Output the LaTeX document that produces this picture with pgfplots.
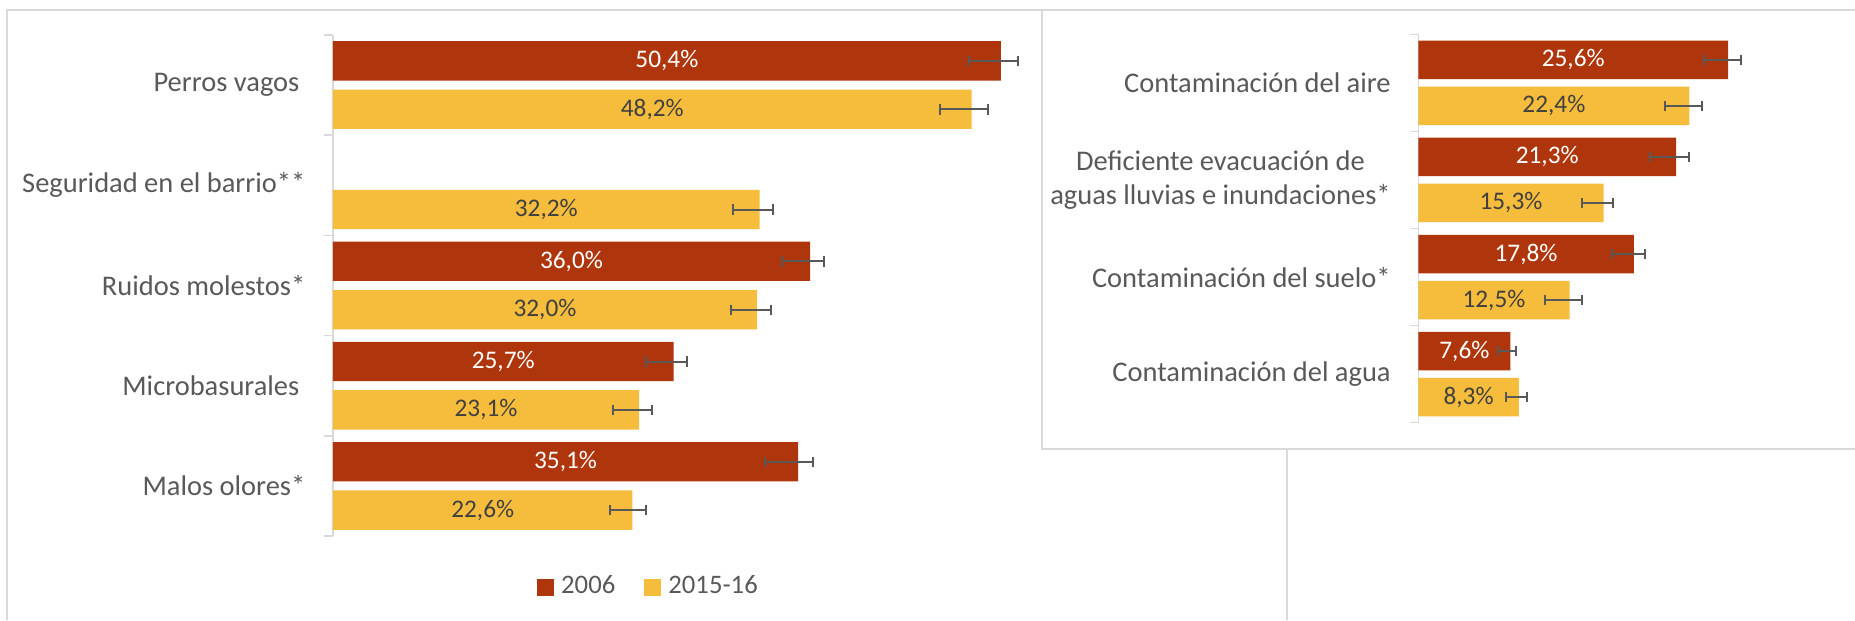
\documentclass[border=0pt]{standalone}
\usepackage{pgfplots}
\usepackage{pgfplotstable}
\pgfplotsset{compat=1.18}
\usepackage{fontspec}
\setmainfont{Carlito}
\definecolor{c2006}{RGB}{175,54,12}
\definecolor{c2015}{RGB}{246,188,60}
\definecolor{framegray}{RGB}{217,217,217}
\definecolor{txtgray}{RGB}{89,89,89}
\definecolor{lblgray}{RGB}{64,64,64}

% left panel: y = category position (4 = top)
\pgfplotstableread{
y  v     ep    em
4  50.4  1.3   2.4
2  36.0  1.05  2.1
1  25.7  1.0   2.1
0  35.1  1.15  2.5
}\leftA
\pgfplotstableread{
y  v     ep    em
4  48.2  1.2   2.4
3  32.2  1.0   2.0
2  32.0  1.05  2.0
1  23.1  1.0   2.0
0  22.6  1.0   1.7
}\leftB
% right panel
\pgfplotstableread{
y  v     ep    em
3  25.6  1.1   2.0
2  21.3  1.1   2.2
1  17.8  0.95  1.8
0  7.6   0.5   1.0
}\rightA
\pgfplotstableread{
y  v     ep    em
3  22.4  1.0   2.0
2  15.3  0.8   1.75
1  12.5  1.0   2.0
0  8.3   0.65  1.1
}\rightB

\pgfplotsset{
  panel/.style={
    scale only axis, anchor=south west,
    xmin=0, axis x line=none, axis y line*=left,
    axis line style={draw=framegray, line width=0.15mm},
    tick align=outside,
    major tick length=0pt, minor tick length=0.85mm,
    major tick style={draw=none},
    minor tick style={draw=framegray, line width=0.15mm},
    xbar,
    y tick label style={font=\fontsize{8.1}{9.8}\selectfont, text=txtgray,
      inner sep=0pt, xshift=-2.7mm, align=center},
    error bars/x dir=both, error bars/x explicit,
    error bars/error mark=|,
    error bars/error bar style={draw=txtgray, line width=0.2mm},
    error bars/error mark options={draw=txtgray, line width=0.2mm, mark size=0.52mm},
    nodes near coords={\pgfmathprintnumber[fixed,fixed zerofill,precision=1,use comma,assume math mode=true]{\pgfplotspointmeta}\%},
    every node near coord/.append style={anchor=center, font=\fontsize{7.2}{8}\selectfont},
    visualization depends on={rawx \as \rawx},
    legend image code/.code={\fill[#1] (0,-0.85mm) rectangle (1.7mm,0.85mm);},
  },
}

\begin{document}
\begin{tikzpicture}
  \draw[framegray, line width=0.2mm] (0.7mm,0) -- (0.7mm,61mm) -- (128.7mm,61mm) -- (128.7mm,0);

  \begin{axis}[panel,
    at={(33.3mm,8.4mm)}, width=79.5mm, height=50.1mm,
    xmax=60, ymin=-0.5, ymax=4.5,
    ytick={0,...,4},
    yticklabels={Malos olores*, Microbasurales\rule{0.6mm}{0pt}, Ruidos molestos*,
      Seguridad en el barrio**, Perros vagos\rule{0.6mm}{0pt}},
    minor ytick={-0.5,0.5,...,4.5},
    every node near coord/.append style={xshift={-0.6625mm*\rawx}},
    legend style={at={(0.4,-0.1028)}, anchor=center, draw=none, fill=none,
      legend columns=-1, font=\fontsize{7.6}{9}\selectfont, text=txtgray,
      /tikz/every even column/.append style={column sep=2.2mm}},
  ]
    \addplot[fill=c2006, draw=none, bar width=0.393, bar shift=0.2415,
      every node near coord/.append style={text=white}]
      table[x=v, y=y, x error plus=ep, x error minus=em]{\leftA};
    \addplot[fill=c2015, draw=none, bar width=0.393, bar shift=-0.2415,
      every node near coord/.append style={text=lblgray}]
      table[x=v, y=y, x error plus=ep, x error minus=em]{\leftB};
    \legend{2006,2015-16}
  \end{axis}

  \fill[white] (104.16mm,17.1mm) rectangle (185.5mm,61mm);
  \draw[framegray, line width=0.2mm] (185.6mm,17.1mm) -- (104.16mm,17.1mm) -- (104.16mm,61mm) -- (185.6mm,61mm);

  \begin{axis}[panel,
    at={(141.84mm,19.73mm)}, width=43.56mm, height=38.84mm,
    xmax=36, ymin=-0.5, ymax=3.5,
    ytick={0,...,3},
    yticklabels={Contaminación del agua, Contaminación del suelo*,
      Deficiente evacuación de\\aguas lluvias e inundaciones*, Contaminación del aire},
    minor ytick={-0.5,0.5,...,3.5},
    every node near coord/.append style={xshift={-0.605mm*\rawx}},
  ]
    \addplot[fill=c2006, draw=none, bar width=0.396, bar shift=0.237,
      every node near coord/.append style={text=white}]
      table[x=v, y=y, x error plus=ep, x error minus=em]{\rightA};
    \addplot[fill=c2015, draw=none, bar width=0.396, bar shift=-0.237,
      every node near coord/.append style={text=lblgray}]
      table[x=v, y=y, x error plus=ep, x error minus=em]{\rightB};
  \end{axis}

  \pgfresetboundingbox
  \path[use as bounding box] (0,0) rectangle (185.5mm,62mm);
\end{tikzpicture}
\end{document}
